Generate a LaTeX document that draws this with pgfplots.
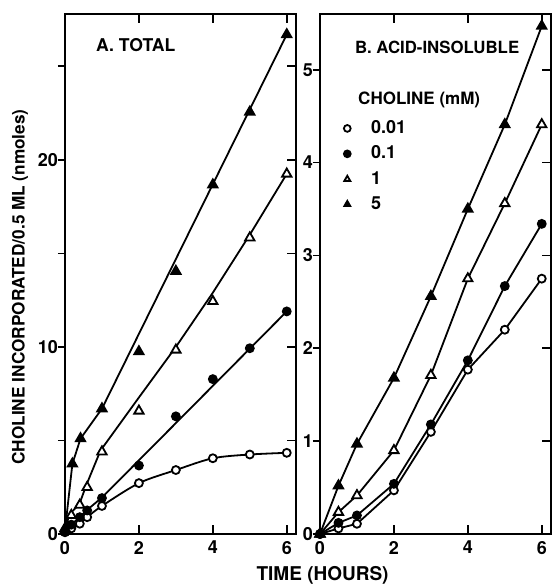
\documentclass[border=0pt]{standalone}
\usepackage{fontspec}
\setmainfont{TeX Gyre Heros}
\usepackage{pgfplots}
\pgfplotsset{compat=1.18}

\newcommand{\lab}{\bfseries\fontsize{9}{10}\selectfont}

\pgfplotsset{
  panel/.style={
    scale only axis, width=115.5pt, height=260pt,
    xmin=0, xmax=6.25, xtick={0,2,4,6},
    axis line style={line width=1pt},
    tick style={line width=0.9pt, black},
    tick align=inside, major tick length=4.5pt,
    ytick pos=right, yticklabel pos=left,
    xtick pos=both, xticklabel pos=bottom,
    tick label style={font=\lab},
    /pgf/number format/assume math mode=true,
    every axis plot/.append style={line width=0.9pt, black},
    clip=false,
  },
  leftticks/.style={
    scale only axis, width=115.5pt, height=260pt,
    xmin=0, xmax=6.25,
    hide x axis, axis y line*=left,
    axis line style={line width=1pt},
    ytick style={line width=0.9pt, black},
    tick align=outside, major tick length=3.5pt,
    ytick pos=left, yticklabels={},
  },
  oc/.style={mark=*, mark size=2pt, mark options={fill=white, draw=black}},
  fc/.style={mark=*, mark size=2pt, mark options={fill=black, draw=black}},
  ot/.style={mark=triangle*, mark size=2.7pt, mark options={fill=white, draw=black}},
  ft/.style={mark=triangle*, mark size=2.7pt, mark options={fill=black, draw=black}},
}

\begin{document}
\begin{tikzpicture}
\useasboundingbox (-32.5pt,-26pt) rectangle (245pt,267pt);

% A. total: fitted lines drawn first, measured points on top
\begin{axis}[panel, at={(0,0)}, anchor=south west,
  ymin=0, ymax=27.8,
  ytick={0,5,10,15,20,25}, yticklabels={0,,10,,20,},
  ylabel={CHOLINE INCORPORATED/0.5 ML (nmoles)},
  ylabel style={at={(axis description cs:-0.195,0.475)}, anchor=center, font=\bfseries\fontsize{8.6}{10}\selectfont},
  xlabel={TIME (HOURS)},
  xlabel style={at={(axis description cs:1.115,-0.079)}, anchor=center, font=\bfseries\fontsize{9.5}{10}\selectfont},
]
% lines
\addplot[no marks, smooth] coordinates {(0,0.1) (0.17,0.3) (0.4,0.55) (0.6,0.9) (1,1.5) (2,2.72) (3,3.42) (4,4.05) (5,4.25) (6,4.34)};
\addplot[no marks] coordinates {(0,0.1) (0.17,0.5) (0.4,0.9) (0.57,1.24) (1,1.95) (6,11.9)};
\addplot[no marks] coordinates {(0,0.2) (0.12,1.06) (0.39,1.6) (0.57,2.58) (0.96,4.46) (2,7.3) (3,10.0) (4,12.9) (5,16.0) (6,19.25)};
\addplot[no marks] coordinates {(0,0.2) (0.2,3.75) (0.42,5.1) (1,6.7) (6,26.7)};
% points
\addplot[oc, only marks] coordinates {(0,0.1) (0.17,0.3) (0.4,0.55) (0.6,0.9) (1,1.5) (2,2.72) (3,3.42) (4,4.05) (5,4.25) (6,4.34)};
\addplot[fc, only marks] coordinates {(0,0.1) (0.17,0.5) (0.4,0.9) (0.6,1.26) (1,1.92) (2,3.66) (3,6.29) (4,8.28) (5,9.93) (6,11.9)};
\addplot[ot, only marks] coordinates {(0,0.2) (0.17,1.0) (0.4,1.55) (0.6,2.5) (1,4.4) (2,6.58) (3,9.84) (4,12.44) (5,15.84) (6,19.25)};
\addplot[ft, only marks] coordinates {(0,0.3) (0.2,3.75) (0.42,5.1) (1,6.7) (2,9.75) (3,14.05) (4,18.67) (5,22.56) (6,26.7)};
\node[anchor=west, font=\bfseries\fontsize{8.8}{10}\selectfont] at (rel axis cs:0.104,0.94) {A. TOTAL};
\end{axis}
\begin{axis}[leftticks, at={(0,0)}, anchor=south west,
  ymin=0, ymax=27.8, ytick={0,5,10,15,20,25}]
\end{axis}

% B. acid-insoluble
\begin{axis}[panel, at={(127.5pt,0)}, anchor=south west,
  ymin=0, ymax=5.6, ytick={0,1,2,3,4,5},
  legend style={draw=none, fill=none, at={(rel axis cs:0,1)}, anchor=north west,
    xshift=9pt, yshift=-52pt, inner sep=0pt, row sep=2.7pt, font=\lab,
    nodes={inner sep=1pt}},
  legend cell align=left,
  /tikz/every odd column/.append style={column sep=6.5pt},
  legend image code/.code={\path (0pt,0pt) (8pt,0pt);
    \draw[#1, mark size=1.7pt] plot[only marks] coordinates {(4pt,0pt)};},
]
\addplot[oc] coordinates {(0,0) (0.5,0.06) (1,0.11) (2,0.47) (3,1.10) (4,1.77) (5,2.2) (6,2.75)};
\addlegendentry{0.01}
\addplot[fc] coordinates {(0,0) (0.5,0.12) (1,0.2) (2,0.54) (3,1.18) (4,1.87) (5,2.67) (6,3.34)};
\addlegendentry{0.1}
\addplot[ot] coordinates {(0,0) (0.5,0.235) (1,0.415) (2,0.9) (3,1.71) (4,2.75) (5,3.56) (6,4.41)};
\addlegendentry{1}
\addplot[ft] coordinates {(0,0) (0.5,0.52) (1,0.97) (2,1.68) (3,2.56) (4,3.5) (5,4.41) (6,5.47)};
\addlegendentry{5}
\node[anchor=west, font=\bfseries\fontsize{8.4}{10}\selectfont] at (rel axis cs:0.121,0.935) {B. ACID-INSOLUBLE};
\node[anchor=west, font=\bfseries\fontsize{8.5}{10}\selectfont] at (rel axis cs:0.135,0.835) {CHOLINE (mM)};
\end{axis}
\begin{axis}[leftticks, at={(127.5pt,0)}, anchor=south west,
  ymin=0, ymax=5.6, ytick={0,1,2,3,4,5}]
\end{axis}
\end{tikzpicture}
\end{document}
